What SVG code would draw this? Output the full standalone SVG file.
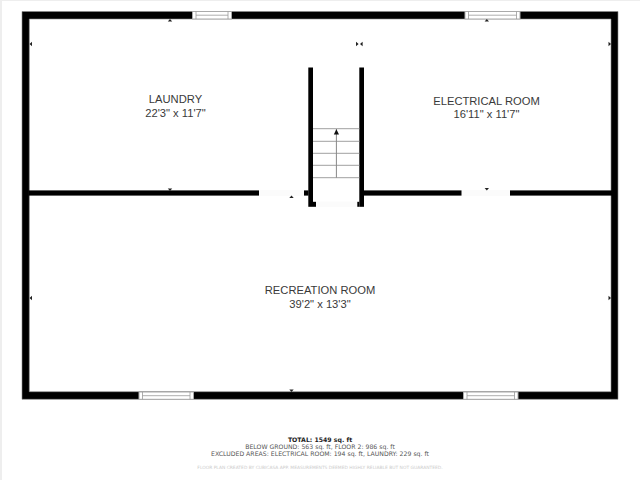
<svg xmlns="http://www.w3.org/2000/svg" width="640" height="480" viewBox="0 0 640 480">
<defs>
<style>
.wall{fill:#000;stroke:#8a8a8a;stroke-width:.6}
.inner{fill:#000}
.open{fill:#fbfbfb}
.win{fill:#fff;stroke:#aaa;stroke-width:1}
.winl{stroke:#999;stroke-width:.8;fill:none}
.tick{fill:#222}
.tread{stroke:#a0a0a0;stroke-width:1;fill:none}
.room{font-family:"Liberation Sans",Arial,sans-serif;font-size:11.2px;fill:#3a3a3a;text-anchor:middle}
.foot{font-family:"DejaVu Sans",Verdana,sans-serif;text-anchor:middle}
</style>
</defs>
<rect width="640" height="480" fill="#fff"/>
<rect width="2" height="480" fill="#eee"/>
<rect width="640" height="1" fill="#eee"/>
<g id="walls">
<path class="wall" fill-rule="evenodd" d="M22 11.5H618V399.3H22ZM29.3 19V391.7H611V19Z"/>
<rect class="inner" x="28.500" y="190.400" width="280" height="5.200"/>
<rect class="inner" x="364" y="190.400" width="248" height="5.200"/>
<rect class="inner" x="308.300" y="67.500" width="4.700" height="139.300"/>
<rect class="inner" x="359.300" y="67.500" width="4.700" height="139.300"/>
<rect class="inner" x="313" y="201.800" width="3" height="5"/>
<rect class="inner" x="357.300" y="201.800" width="2" height="5"/>
</g>
<g id="openings">
<rect class="open" x="259" y="190" width="45" height="6"/>
<rect class="open" x="461.500" y="190" width="48.500" height="6"/>
<rect class="open" x="316.500" y="201.500" width="40.500" height="5.500"/>
</g>
<g id="windows">
<g id="window-top-left"><rect class="win" x="192.500" y="11.500" width="39" height="7.500"/><path class="winl" d="M196 11.500V19M228 11.500V19M196 15.200H228"/></g>
<g id="window-top-right"><rect class="win" x="465" y="11.500" width="55" height="7.500"/><path class="winl" d="M468.500 11.500V19M516.500 11.500V19M468.500 15.200H516.500"/></g>
<g id="window-bottom-left"><rect class="win" x="139" y="392" width="54.500" height="7.300"/><path class="winl" d="M142.500 392V399.300M190 392V399.300M142.500 395.700H190"/></g>
<g id="window-bottom-right"><rect class="win" x="463.500" y="392" width="54.500" height="7.300"/><path class="winl" d="M467 392V399.300M514.500 392V399.300M467 395.700H514.500"/></g>
</g>
<g id="stairs">
<path class="tread" d="M313 128.700H359.300M313 141.300H359.300M313 153.300H359.300M313 165.300H359.300M313 177.700H359.300"/>
<path d="M336.400 129V177.700" stroke="#888" stroke-width="1" fill="none"/>
<path d="M336.400 129.300L339 134.500H333.800Z" fill="#111"/>
</g>
<g id="ticks">
<path class="tick" d="M170 19L172.200 21.500H167.800Z"/>
<path class="tick" d="M486.800 19L489 21.500H484.600Z"/>
<path class="tick" d="M29.500 44L32 41.800V46.200Z"/>
<path class="tick" d="M358.600 44L356 41.800V46.200Z"/>
<path class="tick" d="M360 44L362.600 41.800V46.200Z"/>
<path class="tick" d="M611 44L608.500 41.800V46.200Z"/>
<path class="tick" d="M170 191L172.200 188.500H167.800Z"/>
<path class="tick" d="M486.800 190.500L489 188H484.600Z"/>
<path class="tick" d="M291.500 195.600L293.700 198H289.300Z"/>
<path class="tick" d="M29.500 298L32 295.800V300.200Z"/>
<path class="tick" d="M611 298L608.500 295.800V300.200Z"/>
<path class="tick" d="M291.500 392L293.700 389.500H289.300Z"/>
</g>
<g id="room-laundry"><text class="room" x="175.500" y="103">LAUNDRY</text><text class="room" x="175.500" y="116.500">22'3" x 11'7"</text></g>
<g id="room-electrical"><text class="room" x="486.500" y="104.500">ELECTRICAL ROOM</text><text class="room" x="486.500" y="118">16'11" x 11'7"</text></g>
<g id="room-recreation"><text class="room" x="320" y="294">RECREATION ROOM</text><text class="room" x="320" y="307.500">39'2" x 13'3"</text></g>
<g id="footer">
<text class="foot" x="320" y="442" font-size="6.200" font-weight="bold" fill="#222">TOTAL: 1549 sq. ft</text>
<text class="foot" x="320" y="449" font-size="6.200" fill="#555">BELOW GROUND: 563 sq. ft, FLOOR 2: 986 sq. ft</text>
<text class="foot" x="320" y="456" font-size="6.200" fill="#555">EXCLUDED AREAS: ELECTRICAL ROOM: 194 sq. ft, LAUNDRY: 229 sq. ft</text>
<text class="foot" x="320" y="468.500" font-size="4.450" fill="#ccc">FLOOR PLAN CREATED BY CUBICASA APP. MEASUREMENTS DEEMED HIGHLY RELIABLE BUT NOT GUARANTEED.</text>
</g>
</svg>
